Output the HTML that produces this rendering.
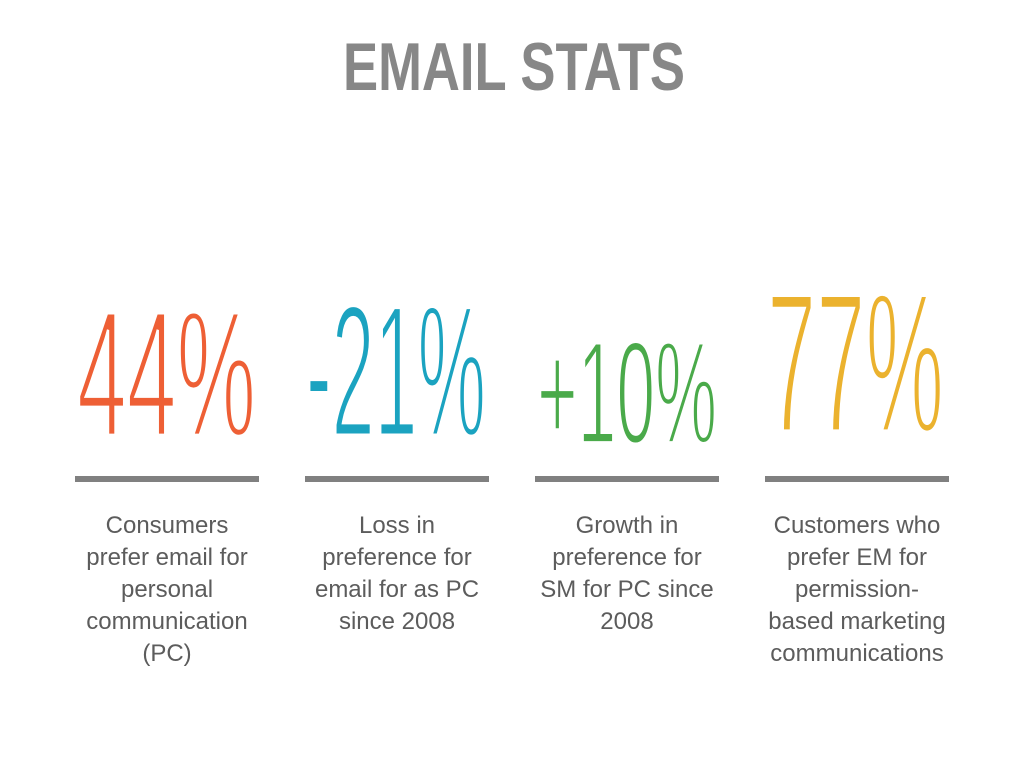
<!DOCTYPE html>
<html><head><meta charset="utf-8"><style>
html,body{margin:0;padding:0;background:#fff;}
svg{display:block;}
.cap{font-family:"Liberation Sans",sans-serif;font-size:24px;fill:#5c5c5c;text-anchor:middle;font-weight:normal;}
.num{font-family:"Liberation Sans",sans-serif;font-size:50px;font-weight:normal;stroke:#fff;stroke-width:1.3;paint-order:fill stroke;}
</style></head><body>
<svg width="1024" height="768" viewBox="0 0 1024 768" xmlns="http://www.w3.org/2000/svg">
<rect width="1024" height="768" fill="#fff"/>
<text x="343" y="90" font-family="Liberation Sans, sans-serif" font-weight="bold" font-size="68" fill="#878787" textLength="342" lengthAdjust="spacingAndGlyphs">EMAIL STATS</text>

<g transform="translate(77,436) scale(1,3.6)"><text class="num" x="0" y="0" fill="#ee5f35" textLength="179" lengthAdjust="spacingAndGlyphs">44%</text></g>
<g transform="translate(306,436) scale(1,3.76)"><text class="num" x="0" y="0" fill="#1ba3c0" textLength="180" lengthAdjust="spacingAndGlyphs">-21%</text></g>
<g transform="translate(537,443) scale(1,2.92)"><text class="num" x="0" y="0" fill="#4aaa4a" textLength="180" lengthAdjust="spacingAndGlyphs">+10%</text></g>
<g transform="translate(767,432) scale(1,4.0)"><text class="num" x="0" y="0" fill="#ebb22e" textLength="177" lengthAdjust="spacingAndGlyphs">77%</text></g>

<g fill="#808080">
<rect x="75" y="476" width="184" height="6"/>
<rect x="305" y="476" width="184" height="6"/>
<rect x="535" y="476" width="184" height="6"/>
<rect x="765" y="476" width="184" height="6"/>
</g>

<text class="cap" x="167" y="533">Consumers</text>
<text class="cap" x="167" y="565">prefer email for</text>
<text class="cap" x="167" y="597">personal</text>
<text class="cap" x="167" y="629">communication</text>
<text class="cap" x="167" y="661">(PC)</text>

<text class="cap" x="397" y="533">Loss in</text>
<text class="cap" x="397" y="565">preference for</text>
<text class="cap" x="397" y="597">email for as PC</text>
<text class="cap" x="397" y="629">since 2008</text>

<text class="cap" x="627" y="533">Growth in</text>
<text class="cap" x="627" y="565">preference for</text>
<text class="cap" x="627" y="597">SM for PC since</text>
<text class="cap" x="627" y="629">2008</text>

<text class="cap" x="857" y="533">Customers who</text>
<text class="cap" x="857" y="565">prefer EM for</text>
<text class="cap" x="857" y="597">permission-</text>
<text class="cap" x="857" y="629">based marketing</text>
<text class="cap" x="857" y="661">communications</text>
</svg>
</body></html>
